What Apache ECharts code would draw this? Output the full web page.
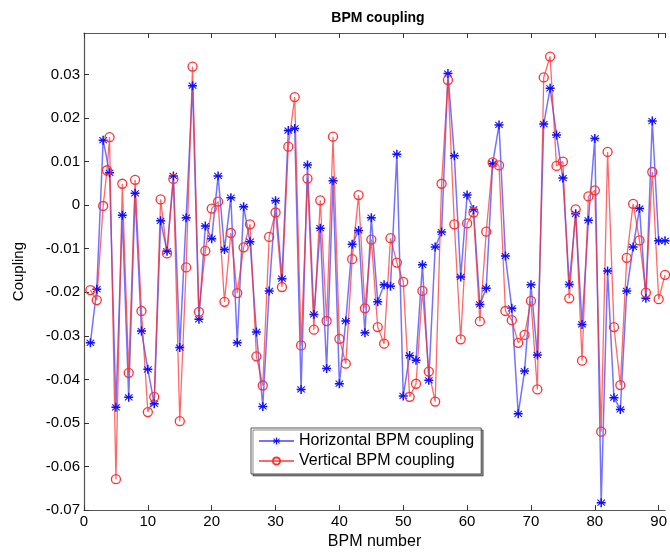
<!DOCTYPE html>
<html><head><meta charset="utf-8">
<script src="https://cdn.jsdelivr.net/npm/echarts@6/dist/echarts.min.js"></script>
<style>html,body{margin:0;padding:0;background:#fff}#c{width:670px;height:555px}</style>
</head><body><div id="c"></div>
<script>
const bpmNumbers = Array.from({length: 91}, (_, i) => i + 1);
const horizontalCoupling = [
  -0.0316, -0.0193, 0.0149, 0.0074, -0.0464, -0.0023, -0.0441, 0.0027, -0.0289, -0.0377,
  -0.0456, -0.0036, -0.0106, 0.0067, -0.0327, -0.0029, 0.0274, -0.0262, -0.0048, -0.0077,
  0.0067, -0.0102, 0.0017, -0.0316, -0.0004, -0.0084, -0.0291, -0.0462, -0.0197, 0.0010,
  -0.0169, 0.0171, 0.0176, -0.0423, 0.0092, -0.0251, -0.0053, -0.0375, 0.0056, -0.0410,
  -0.0266, -0.0090, -0.0058, -0.0293, -0.0029, -0.0222, -0.0183, -0.0186, 0.0117, -0.0438,
  -0.0345, -0.0356, -0.0137, -0.0402, -0.0096, -0.0062, 0.0302, 0.0113, -0.0165, 0.0023,
  -0.0010, -0.0228, -0.0191, 0.0095, 0.0184, -0.0117, -0.0237, -0.0479, -0.0381, -0.0183,
  -0.0344, 0.0186, 0.0268, 0.0161, 0.0062, -0.0182, -0.0020, -0.0274, -0.0035, 0.0153,
  -0.0683, -0.0151, -0.0442, -0.0469, -0.0197, -0.0096, -0.0008, -0.0214, 0.0193, -0.0082,
  -0.0082
];
const verticalBpm = [1, 2, 3, 3.6].concat(bpmNumbers.slice(3));
const verticalCoupling = [
  -0.0195, -0.0218, -0.0002, 0.0080, 0.0156, -0.0629, 0.0049, -0.0385, 0.0058, -0.0243, -0.0475,
  -0.0440, 0.0013, -0.0111, 0.0060, -0.0496, -0.0143, 0.0318, -0.0245, -0.0105, -0.0008,
  0.0008, -0.0222, -0.0064, -0.0202, -0.0097, -0.0044, -0.0347, -0.0414, -0.0073, -0.0017,
  -0.0188, 0.0134, 0.0248, -0.0322, 0.0061, -0.0286, 0.0011, -0.0266, 0.0157, -0.0307,
  -0.0364, -0.0124, 0.0023, -0.0237, -0.0079, -0.0280, -0.0318, -0.0076, -0.0132, -0.0176,
  -0.0440, -0.0410, -0.0197, -0.0382, -0.0451, 0.0049, 0.0287, -0.0044, -0.0308, -0.0042,
  -0.0017, -0.0267, -0.0061, 0.0098, 0.0091, -0.0243, -0.0264, -0.0316, -0.0298, -0.0220,
  -0.0423, 0.0293, 0.0341, 0.0090, 0.0100, -0.0214, -0.0010, -0.0357, 0.0020, 0.0034,
  -0.0520, 0.0122, -0.0280, -0.0413, -0.0121, 0.0003, -0.0081, -0.0201, 0.0076, -0.0216,
  -0.0160
];
const xTickLabels = ['0','10','20','30','40','50','60','70','80','90'];
const yTickLabels = ['-0.07','-0.06','-0.05','-0.04','-0.03','-0.02','-0.01','0','0.01','0.02','0.03'];

const FONT = 'Liberation Sans';
const hData = bpmNumbers.map((b, i) => [b, horizontalCoupling[i]]);
const vData = verticalBpm.map((b, i) => [b, verticalCoupling[i]]);
const starPath = 'path://M-1,-6H1V-1.3L4.5,-4.5L5.5,-3.5L1.5,0L5.5,3.5L4.5,4.5L1,1.3V6H-1V1.3L-4.5,4.5L-5.5,3.5L-1.5,0L-5.5,-3.5L-4.5,-4.5L-1,-1.3ZM-6,-1H6V1H-6Z';

const xLabelFmt = v => { const s = String(Math.round(v)); return (Math.abs(v - Math.round(v)) < 1e-9 && xTickLabels.includes(s)) ? s : ''; };
const yLabelFmt = v => { const r = Math.round(v * 100); if (Math.abs(v * 100 - r) > 1e-6) return ''; const s = r === 0 ? '0' : (r / 100).toFixed(2); return yTickLabels.includes(s) ? s : ''; };

const axisLineStyle = {color: '#555', width: 1.2};
const chart = echarts.init(document.getElementById('c'), null, {renderer: 'canvas'});
chart.setOption({
  animation: false,
  backgroundColor: '#fff',
  title: {text: 'BPM coupling', left: 373, top: 6, textAlign: 'center',
    textStyle: {fontFamily: FONT, fontSize: 14, fontWeight: 'bold', color: '#000'}},
  grid: {left: 84, top: 33, right: -1, bottom: 43, containLabel: false},
  xAxis: [{
    type: 'value', min: 0, max: 91, interval: 10, position: 'bottom',
    name: 'BPM number', nameLocation: 'middle', nameGap: 22,
    nameTextStyle: {fontFamily: FONT, fontSize: 16, color: '#000'},
    axisLine: {show: true, onZero: false, lineStyle: axisLineStyle},
    axisTick: {show: true, inside: true, length: 5, lineStyle: {color: '#333'}},
    axisLabel: {formatter: xLabelFmt, fontFamily: FONT, fontSize: 15, color: '#000', margin: 4, showMaxLabel: false},
    splitLine: {show: false}
  }, {
    type: 'value', min: 0, max: 91, interval: 10, position: 'top',
    axisLine: {show: true, onZero: false, lineStyle: axisLineStyle},
    axisTick: {show: true, inside: true, length: 5, lineStyle: {color: '#333'}},
    axisLabel: {show: false}, splitLine: {show: false}
  }],
  yAxis: [{
    type: 'value', min: -0.07, max: 0.0395, interval: 0.01, position: 'left',
    name: 'Coupling', nameLocation: 'middle', nameGap: 58, nameRotate: 90,
    nameTextStyle: {fontFamily: FONT, fontSize: 15, color: '#000'},
    axisLine: {show: true, onZero: false, lineStyle: axisLineStyle},
    axisTick: {show: true, inside: true, length: 5, lineStyle: {color: '#333'}},
    axisLabel: {formatter: yLabelFmt, fontFamily: FONT, fontSize: 15, color: '#000', margin: 4, showMaxLabel: false},
    splitLine: {show: false}
  }],
  legend: {
    left: 251, top: 428, orient: 'vertical',
    itemWidth: 35, itemHeight: 9, itemGap: 4,
    padding: [5, 7, 5, 7],
    borderColor: '#555', borderWidth: 1, backgroundColor: '#fff',
    shadowColor: 'rgba(0,0,0,0.45)', shadowOffsetX: 2, shadowOffsetY: 2, shadowBlur: 0,
    textStyle: {fontFamily: FONT, fontSize: 16, color: '#000'},
    data: ['Horizontal BPM coupling', 'Vertical BPM coupling']
  },
  series: [{
    name: 'Horizontal BPM coupling', type: 'line', xAxisIndex: 0, yAxisIndex: 0,
    data: hData, symbol: starPath, symbolSize: 9, showSymbol: true,
    lineStyle: {color: 'rgba(40,40,255,0.65)', width: 1.5},
    itemStyle: {color: '#1010ff', borderWidth: 0}
  }, {
    name: 'Vertical BPM coupling', type: 'line', xAxisIndex: 0, yAxisIndex: 0,
    data: vData, symbol: 'circle', symbolSize: 9, showSymbol: true,
    lineStyle: {color: 'rgba(255,40,40,0.7)', width: 1.3},
    itemStyle: {color: 'rgba(255,255,255,0)', borderColor: '#ff3030', borderWidth: 1.3}
  }]
});
</script></body></html>
